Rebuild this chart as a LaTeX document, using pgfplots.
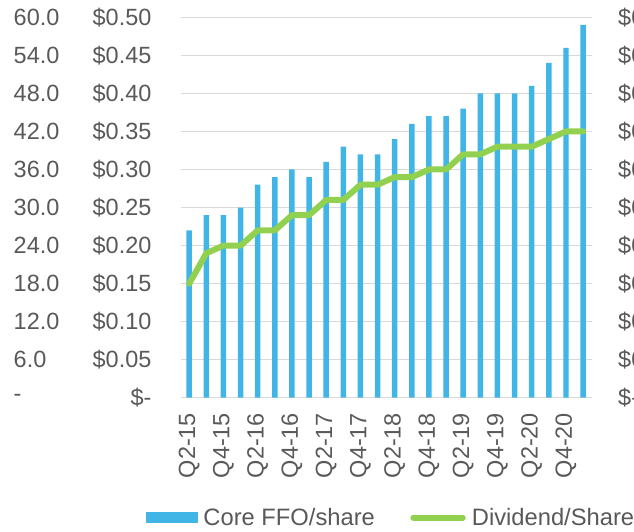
\documentclass[border=0pt]{standalone}
\usepackage{pgfplots}
\pgfplotsset{compat=1.18}
\usepackage{fontspec}
\setmainfont{Liberation Sans}
\definecolor{ffoblue}{RGB}{65,182,230}
\definecolor{divgreen}{RGB}{146,208,80}
\definecolor{txtgray}{RGB}{89,89,89}
\definecolor{gridgray}{RGB}{217,217,217}
\newcommand{\lbl}{\fontsize{17.6pt}{20pt}\selectfont}
\newcommand{\lgd}{\fontsize{17.8pt}{20pt}\selectfont}
\pgfplotstableread{
x ffo div
0 0.22 0.15
1 0.24 0.19
2 0.24 0.20
3 0.25 0.20
4 0.28 0.22
5 0.29 0.22
6 0.30 0.24
7 0.29 0.24
8 0.31 0.26
9 0.33 0.26
10 0.32 0.28
11 0.32 0.28
12 0.34 0.29
13 0.36 0.29
14 0.37 0.30
15 0.37 0.30
16 0.38 0.32
17 0.40 0.32
18 0.40 0.33
19 0.40 0.33
20 0.41 0.33
21 0.44 0.34
22 0.46 0.35
23 0.49 0.35
}\datatable
\begin{document}
\begin{tikzpicture}
\pgfplotsset{
  base/.style={
    scale only axis, width=308.25pt, height=285.3pt,
    xmin=-0.5, xmax=23.5, ymin=0, ymax=0.5,
    major tick length=0pt,
    tick label style={font=\lbl, text=txtgray},
  }
}
% left FFO column (0-60)
\begin{axis}[base, ymin=0, ymax=60,
  hide x axis, axis line style={draw=none},
  ytick={0,6,12,18,24,30,36,42,48,54,60},
  yticklabels={-,6.0,12.0,18.0,24.0,30.0,36.0,42.0,48.0,54.0,60.0},
  yticklabel style={anchor=west, inner sep=0pt, xshift=-125.4pt},
]
\end{axis}
% right axis (clipped)
\begin{axis}[base, axis y line*=right,
  hide x axis, axis line style={draw=none},
  ytick={0,0.05,0.1,0.15,0.2,0.25,0.3,0.35,0.4,0.45,0.5},
  yticklabels={\$-,\$0.05,\$0.10,\$0.15,\$0.20,\$0.25,\$0.30,\$0.35,\$0.40,\$0.45,\$0.50},
  yticklabel style={anchor=west, inner sep=0pt, xshift=19.7pt},
]
\end{axis}
% main axis
\begin{axis}[base, name=main,
  axis line style={draw=none},
  ymajorgrids, grid style={gridgray, line width=1pt},
  ytick={0,0.05,0.1,0.15,0.2,0.25,0.3,0.35,0.4,0.45,0.5},
  yticklabels={\$-\hspace{10pt},\$0.05,\$0.10,\$0.15,\$0.20,\$0.25,\$0.30,\$0.35,\$0.40,\$0.45,\$0.50},
  yticklabel style={anchor=east, inner sep=0pt, xshift=-21.75pt},
  xtick={0,2,4,6,8,10,12,14,16,18,20,22},
  xticklabels={Q2-15,Q4-15,Q2-16,Q4-16,Q2-17,Q4-17,Q2-18,Q4-18,Q2-19,Q4-19,Q2-20,Q4-20},
  xticklabel style={yshift=-11.25pt, rotate=90, anchor=east, inner sep=0pt},
  legend columns=2,
  legend style={at={(-0.0844,-0.315)}, anchor=west, draw=none, fill=none,
    inner sep=0pt, font=\lgd, text=txtgray,
    nodes={inner sep=1.6pt},
    /tikz/every even column/.append style={column sep=25pt}},
]
\addplot[ybar, bar width=4.1pt, bar shift=0pt, fill=ffoblue, draw=none,
  legend image code/.code={\fill[ffoblue] (0pt,-4.4pt) rectangle (38.8pt,4.4pt); \path (41.3pt,0pt);}]
  table[x=x, y=ffo] {\datatable};
\addlegendentry{Core FFO/share}
\addplot[divgreen, line width=4.5pt, line join=round, line cap=round, mark=none,
  legend image code/.code={\draw[divgreen, line width=4.5pt, line cap=round] (2.25pt,0pt) -- (39.3pt,0pt); \path (42.3pt,0pt);}]
  table[x=x, y=div] {\datatable};
\addlegendentry{Dividend/Share}
\end{axis}
\pgfresetboundingbox
\useasboundingbox ([xshift=-135.5pt,yshift=-100pt]main.south west) rectangle ([xshift=340pt,yshift=298.3pt]main.south west);
\end{tikzpicture}
\end{document}
